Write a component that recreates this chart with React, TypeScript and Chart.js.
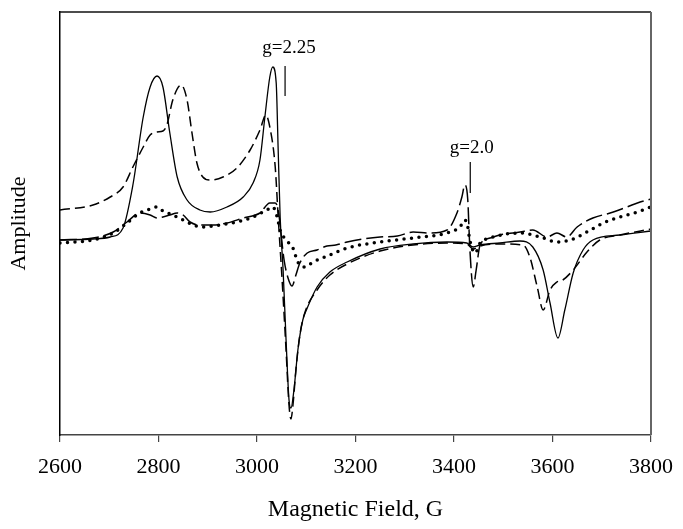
import React, { useEffect, useRef } from "react";
import { Chart, registerables } from "chart.js";

Chart.register(...registerables);

const xTicks = [2600, 2800, 3000, 3200, 3400, 3600, 3800];

// Solid trace
const solidField = [2600, 2667, 2702, 2728, 2748, 2769, 2783, 2797, 2809, 2823, 2838, 2858, 2884, 2905, 2939, 2972, 2992, 3006, 3016, 3026, 3032, 3039, 3043, 3047, 3053, 3059, 3065, 3069, 3075, 3083, 3093, 3102, 3122, 3148, 3183, 3250, 3317, 3386, 3426, 3439, 3453, 3493, 3534, 3560, 3581, 3595, 3611, 3625, 3642, 3662, 3682, 3737, 3800];
const solidAmp = [0, 0.1, 0.3, 1.2, 5.5, 12.3, 15.3, 16.4, 15.3, 10.7, 6.3, 4.0, 3.0, 2.8, 3.3, 4.3, 5.7, 8.0, 12.3, 16.3, 17.3, 15.7, 9.0, 2.3, -3.0, -10.0, -16.0, -16.8, -15.0, -11.0, -8.0, -6.8, -4.7, -3.2, -2.2, -0.9, -0.4, -0.2, -0.3, -0.7, -0.5, -0.3, -0.1, -0.7, -3.0, -6.3, -9.8, -7.0, -3.3, -1.0, 0, 0.5, 0.9];

// Medium-dashed trace
const dashField = [2600, 2667, 2702, 2728, 2748, 2769, 2783, 2797, 2809, 2817, 2829, 2846, 2858, 2868, 2878, 2890, 2905, 2931, 2959, 2986, 3006, 3018, 3026, 3037, 3043, 3051, 3059, 3065, 3069, 3073, 3079, 3087, 3097, 3122, 3148, 3183, 3250, 3317, 3386, 3426, 3439, 3453, 3493, 3540, 3554, 3569, 3581, 3595, 3609, 3621, 3642, 3670, 3696, 3737, 3800];
const dashAmp = [3.0, 3.5, 4.3, 5.3, 7.3, 9.3, 10.5, 10.8, 10.9, 11.5, 14.0, 15.5, 14.0, 10.7, 7.7, 6.3, 6.0, 6.3, 7.2, 9.0, 11.0, 12.5, 11.3, 7.3, 2.3, -4.0, -11.0, -16.5, -17.9, -16.5, -13.0, -9.5, -7.3, -5.0, -3.5, -2.4, -1.1, -0.5, -0.3, -0.4, -0.9, -0.6, -0.4, -0.5, -1.7, -4.7, -7.0, -5.0, -4.2, -4.0, -3.0, -1.2, 0, 0.5, 1.1];

// Dotted trace
const dotField = [2600, 2667, 2708, 2736, 2762, 2783, 2797, 2809, 2829, 2850, 2870, 2890, 2925, 2959, 2992, 3020, 3032, 3041, 3047, 3063, 3073, 3083, 3097, 3114, 3148, 3183, 3250, 3317, 3386, 3412, 3422, 3428, 3432, 3443, 3453, 3473, 3534, 3575, 3609, 3636, 3670, 3703, 3737, 3772, 3800];
const dotAmp = [-0.3, 0, 0.7, 1.7, 2.7, 3.1, 3.3, 2.9, 2.5, 2.0, 1.5, 1.3, 1.5, 1.8, 2.3, 3.0, 3.3, 2.3, 1.0, -0.2, -0.8, -2.2, -2.7, -2.2, -1.5, -0.8, -0.2, 0.2, 0.7, 1.3, 2.0, 1.3, 0, -1.3, -0.3, 0.2, 0.7, 0.3, -0.2, 0, 0.8, 1.7, 2.3, 2.8, 3.3];

// Long-dashed trace
const longField = [2600, 2667, 2708, 2736, 2762, 2783, 2797, 2809, 2823, 2838, 2850, 2864, 2884, 2911, 2939, 2972, 3006, 3026, 3037, 3043, 3055, 3063, 3071, 3079, 3087, 3102, 3122, 3142, 3160, 3183, 3215, 3250, 3285, 3317, 3350, 3386, 3406, 3416, 3422, 3428, 3432, 3439, 3445, 3453, 3473, 3493, 3534, 3560, 3589, 3609, 3629, 3650, 3682, 3717, 3751, 3778, 3800];
const longAmp = [0, 0.2, 0.8, 1.8, 2.7, 2.5, 2.2, 2.3, 2.5, 2.7, 2.5, 1.8, 1.5, 1.5, 1.7, 2.2, 2.7, 3.7, 3.7, 3.0, -2.0, -3.8, -4.6, -3.5, -2.3, -1.3, -1.0, -0.6, -0.5, -0.2, 0.1, 0.3, 0.4, 0.8, 0.7, 1.0, 2.7, 4.3, 5.5, 4.0, -0.7, -4.7, -3.0, -0.5, 0.2, 0.5, 0.8, 1.0, 0.3, 0.7, 0.3, 1.3, 2.2, 2.7, 3.3, 3.8, 4.1];

const markerLabels = ["g=2.25", "g=2.0"];
const markerField = [3057, 3433];
const markerLineLow = [14.4, 4.7];
const markerLineHigh = [17.4, 7.8];
const markerTextField = [3065, 3436];
const markerTextAmp = [18.7, 8.7];

const SERIF = '"Liberation Serif", "Times New Roman", serif';

function pts(xs: number[], ys: number[]) {
  return xs.map((x, i) => ({ x, y: ys[i] }));
}

const annotationPlugin = {
  id: "gmarkers",
  afterDatasetsDraw(chart: any) {
    const { ctx, chartArea } = chart;
    const xs = chart.scales.x;
    const ys = chart.scales.y;
    ctx.save();
    // top and right frame
    ctx.lineWidth = 1.5;
    ctx.strokeStyle = "#111";
    ctx.beginPath();
    ctx.moveTo(chartArea.left, chartArea.top);
    ctx.lineTo(chartArea.right, chartArea.top);
    ctx.stroke();
    ctx.lineWidth = 2;
    ctx.strokeStyle = "#666";
    ctx.beginPath();
    ctx.moveTo(chartArea.right, chartArea.top);
    ctx.lineTo(chartArea.right, chartArea.bottom);
    ctx.stroke();
    // markers
    ctx.strokeStyle = "#000";
    ctx.lineWidth = 1.2;
    ctx.fillStyle = "#000";
    ctx.font = `19px ${SERIF}`;
    ctx.textAlign = "center";
    ctx.textBaseline = "alphabetic";
    markerLabels.forEach((label, i) => {
      const px = xs.getPixelForValue(markerField[i]);
      ctx.beginPath();
      ctx.moveTo(px, ys.getPixelForValue(markerLineLow[i]));
      ctx.lineTo(px, ys.getPixelForValue(markerLineHigh[i]));
      ctx.stroke();
      ctx.fillText(label, xs.getPixelForValue(markerTextField[i]), ys.getPixelForValue(markerTextAmp[i]));
    });
    ctx.restore();
  },
};

export default function App() {
  const canvasRef = useRef<HTMLCanvasElement | null>(null);

  useEffect(() => {
    document.body.style.margin = "0";
    const canvas = canvasRef.current;
    if (!canvas) return;
    const common = {
      pointRadius: 0,
      borderColor: "#000",
      fill: false,
      cubicInterpolationMode: "monotone" as const,
    };
    const chart = new Chart(canvas, {
      type: "line",
      data: {
        datasets: [
          { ...common, label: "solid", data: pts(solidField, solidAmp), borderWidth: 1.3 },
          { ...common, label: "dashed", data: pts(dashField, dashAmp), borderWidth: 1.5, borderDash: [10, 5] },
          { ...common, label: "dotted", data: pts(dotField, dotAmp), borderWidth: 3.5, borderDash: [0, 7.5], borderCapStyle: "round" },
          { ...common, label: "longdash", data: pts(longField, longAmp), borderWidth: 1.5, borderDash: [17, 5] },
        ],
      },
      options: {
        animation: false,
        responsive: false,
        maintainAspectRatio: false,
        layout: { padding: { top: 12, right: 32, left: 0, bottom: 0 } },
        plugins: { legend: { display: false }, tooltip: { enabled: false } },
        scales: {
          x: {
            type: "linear",
            min: 2600,
            max: 3800,
            afterBuildTicks: (s: any) => {
              s.ticks = xTicks.map((v) => ({ value: v }));
            },
            afterFit: (s: any) => {
              s.height = 94;
              s.paddingLeft = 0;
              s.paddingRight = 0;
            },
            ticks: {
              color: "#000",
              font: { family: SERIF, size: 22 },
              padding: 12,
              maxRotation: 0,
              callback: (v: any) => String(v),
            },
            grid: { display: true, drawOnChartArea: false, drawTicks: true, tickLength: 7, color: "#444", lineWidth: 1.2 },
            border: { display: true, color: "#444", width: 1.5 },
            title: { display: true, text: "Magnetic Field, G", color: "#000", font: { family: SERIF, size: 24 }, padding: { top: 0, bottom: 5 } },
          },
          y: {
            type: "linear",
            min: -19.5,
            max: 22.8,
            afterFit: (s: any) => {
              s.width = 60;
            },
            ticks: { display: false },
            grid: { display: false },
            border: { display: true, color: "#000", width: 1.5 },
            title: { display: true, text: "Amplitude", color: "#000", font: { family: SERIF, size: 22 }, padding: { top: 6, bottom: 0 } },
          },
        },
      },
      plugins: [annotationPlugin],
    });
    return () => chart.destroy();
  }, []);

  return (
    <div style={{ width: 683, height: 529 }}>
      <canvas ref={canvasRef} width={683} height={529} style={{ width: 683, height: 529, display: "block" }} />
    </div>
  );
}
